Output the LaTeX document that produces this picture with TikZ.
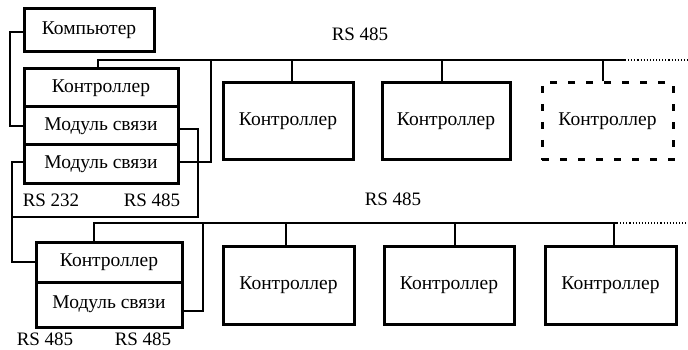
\documentclass[tikz,border=0pt]{standalone}
\usepackage{fontspec}
\setmainfont{Liberation Serif}
\begin{document}
\begin{tikzpicture}[x=1pt,y=-1pt,
  box/.style={draw, line width=3pt, inner sep=0pt, font=\fontsize{19.5}{21}\selectfont},
  dbox/.style={draw, line width=3pt, dash pattern=on 7pt off 11pt, inner sep=0pt, font=\fontsize{19.5}{21}\selectfont},
  wire/.style={line width=1.1pt},
  lbl/.style={font=\fontsize{19}{20}\selectfont, inner sep=0pt}]
\useasboundingbox (0,0) rectangle (688,350);
% computer
\node[box, minimum width=130pt, minimum height=43pt] (pc) at (89,30.5) {Компьютер};
% upper stack
\node[box, minimum width=154pt, minimum height=38pt] (u1) at (101,88) {Контроллер};
\node[box, minimum width=154pt, minimum height=38pt] (u2) at (101,126) {Модуль связи};
\node[box, minimum width=154pt, minimum height=38pt] (u3) at (101,164) {Модуль связи};
% lower stack
\node[box, minimum width=146pt, minimum height=40pt] (l1) at (109,262) {Контроллер};
\node[box, minimum width=146pt, minimum height=45pt] (l2) at (109,304.5) {Модуль связи};
% top row
\node[box, minimum width=130pt, minimum height=77pt] (c1) at (288,121.5) {Контроллер};
\node[box, minimum width=128pt, minimum height=77pt] (c2) at (446,121.5) {Контроллер};
\node[dbox, minimum width=131pt, minimum height=77pt] (c3) at (607.5,121.5) {Контроллер};
% bottom row
\node[box, minimum width=131pt, minimum height=78pt] (d1) at (288.5,285) {Контроллер};
\node[box, minimum width=130pt, minimum height=78pt] (d2) at (449,285) {Контроллер};
\node[box, minimum width=131pt, minimum height=78pt] (d3) at (610.5,285) {Контроллер};
% labels
\node[lbl] (t1) at (360,34) {RS 485};
\node[lbl] (t2) at (393,199) {RS 485};
\node[lbl] (t3) at (51,200) {RS 232};
\node[lbl] (t4) at (152,200) {RS 485};
\node[lbl] (t5) at (45,339) {RS 485};
\node[lbl] (t6) at (143,339) {RS 485};
% bus coordinates
\coordinate (busA) at (625,60);
\coordinate (busAe) at (688,60);
\coordinate (busB) at (617,223);
\coordinate (busBe) at (688,223);
\coordinate (ja) at (211,60);
\coordinate (jb) at (198,217);
\coordinate (jc) at (12,217);
\coordinate (jd) at (203,223);
\coordinate (pcx) at (10,0);
\coordinate (u3x) at (12,0);
% upper bus
\draw[wire] ([xshift=-3pt]u1.north) |- (busA);
\draw[wire, dotted] (busA) -- (busAe);
\draw[wire] ([xshift=4pt]c1.north) -- ([xshift=4pt]c1.north |- busA);
\draw[wire] ([xshift=-4pt]c2.north) -- ([xshift=-4pt]c2.north |- busA);
\draw[wire] ([xshift=-4.5pt]c3.north) -- ([xshift=-4.5pt]c3.north |- busA);
\draw[wire] ([yshift=2pt]u3.east) -| (ja);
% lower bus
\draw[wire] ([xshift=-15pt]l1.north) |- (busB);
\draw[wire, dotted] (busB) -- (busBe);
\draw[wire] ([xshift=-2.5pt]d1.north) -- ([xshift=-2.5pt]d1.north |- busB);
\draw[wire] ([xshift=6pt]d2.north) -- ([xshift=6pt]d2.north |- busB);
\draw[wire] ([xshift=3.5pt]d3.north) -- ([xshift=3.5pt]d3.north |- busB);
\draw[wire] ([yshift=-6.5pt]l2.east) -| (jd);
% computer and cross links
\draw[wire] ([yshift=-1.5pt]pc.west) -| (pcx |- u2.west) -- (u2.west);
\draw[wire] ([yshift=-3pt]u2.east) -| (jb) -- (jc);
\draw[wire] ([yshift=2pt]u3.west) -| (u3x |- l1.west) -- (l1.west);
\end{tikzpicture}
\end{document}
